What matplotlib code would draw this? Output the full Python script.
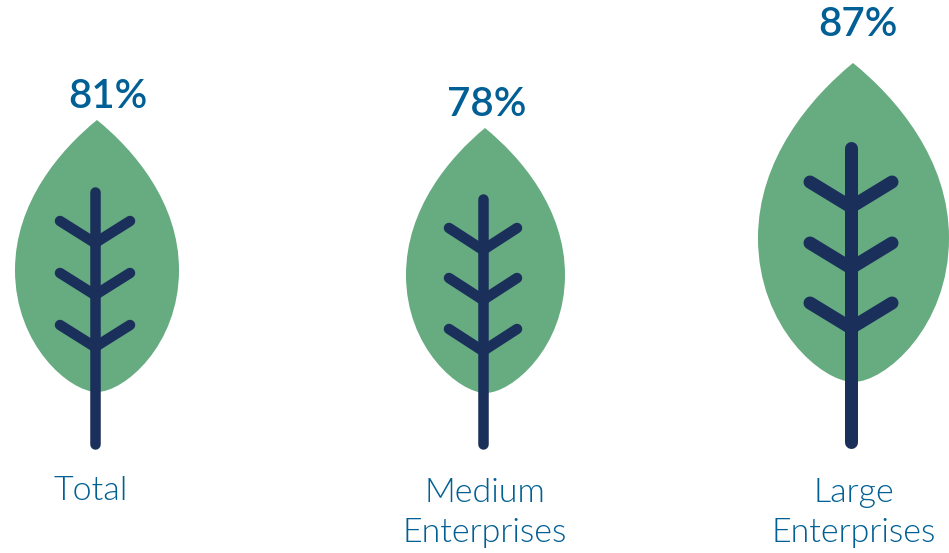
import matplotlib
matplotlib.use("Agg")
import matplotlib.pyplot as plt
from matplotlib.patches import PathPatch
from matplotlib.path import Path

categories = ["Total", "Medium\nEnterprises", "Large\nEnterprises"]
values = [81, 78, 87]

# leaf outlines in pixels: tip x, tip y, left, right, y of widest part, bottom
leaf_boxes = [
    (97, 120, 15, 179, 270, 392),
    (485, 128, 406, 565, 275, 393),
    (853, 63, 758, 949, 238, 382),
]
# stem x, top, bottom, width
stems = [
    (95, 192, 444, 10.5),
    (483, 199, 444, 10.5),
    (851, 148, 442, 13),
]
# branch half span and the y of each tip / joint
branch_spans = [35, 34, 41]
branch_tips = [(221, 273, 325), (228, 278, 329), (182, 243, 303)]
branch_joints = [(243, 295, 347), (250, 300, 351), (207, 268, 328)]
label_xy = [(91, 491), (485, 513), (854, 513)]
value_xy = [(108, 96), (487, 104), (858, 25)]

GREEN = "#66ac80"
NAVY = "#1b2f5b"
BLUE = "#005f94"


def leaf_path(tx, ty, left, right, ymid, bottom):
    cx = (left + right) / 2
    up = ymid - ty
    down = bottom - ymid
    verts = [
        (tx, ty),
        (tx + 0.45 * (right - tx), ty + 0.20 * up), (right, ty + 0.55 * up), (right, ymid),
        (right, ymid + 0.62 * down), (cx + 0.33 * (right - cx), bottom), (cx, bottom),
        (cx - 0.33 * (cx - left), bottom), (left, ymid + 0.62 * down), (left, ymid),
        (left, ty + 0.55 * up), (tx - 0.45 * (tx - left), ty + 0.20 * up), (tx, ty),
    ]
    codes = [Path.MOVETO] + [Path.CURVE4] * 12
    return Path(verts, codes)


fig = plt.figure(figsize=(9.49, 5.53), dpi=100)
ax = fig.add_axes([0, 0, 1, 1])
ax.set_xlim(0, 949)
ax.set_ylim(553, 0)
ax.axis("off")

for i in range(len(values)):
    ax.add_patch(PathPatch(leaf_path(*leaf_boxes[i]), fc=GREEN, ec="none", zorder=1))

    x, top, bottom, w = stems[i]
    lw = w * 0.72
    ax.plot([x, x], [top, bottom], color=NAVY, lw=lw, solid_capstyle="round", zorder=2)
    span = branch_spans[i]
    for tip, joint in zip(branch_tips[i], branch_joints[i]):
        ax.plot([x - span, x, x + span], [tip, joint, tip], color=NAVY, lw=lw,
                solid_capstyle="round", solid_joinstyle="round", zorder=2)

    ax.text(*value_xy[i], f"{values[i]}%", color=BLUE, fontsize=29, family="Lato",
            fontweight=600, ha="center", va="center")
    ax.text(*label_xy[i], categories[i], color=BLUE, fontsize=24.5, family="Lato",
            fontweight=300, ha="center", va="center", linespacing=1.45)

fig.savefig("out.png", dpi=100)
